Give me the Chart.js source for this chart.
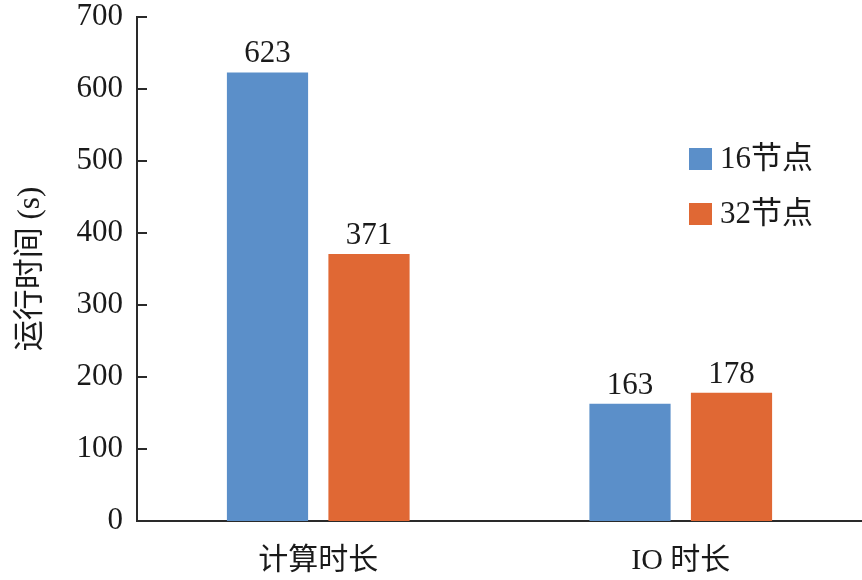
<!DOCTYPE html>
<html>
<head>
<meta charset="utf-8">
<script src="https://cdn.jsdelivr.net/npm/chart.js@4"></script>
<style>
  body { margin: 0; background: #fff; }
  #wrap { width: 862px; height: 580px; }
</style>
</head>
<body>
<div id="wrap"><canvas id="runChart" width="862" height="580"></canvas></div>
<script>
// ====== Data ======
const categories = ["计算时长", "IO 时长"];
const nodes16 = [623, 163];
const nodes32 = [371, 178];
const seriesNames = ["16节点", "32节点"];
const yTicks = [0, 100, 200, 300, 400, 500, 600, 700];

const FONT = "'Liberation Serif', 'Noto Sans CJK SC', serif";
const BLUE = "#5b8fc9";
const ORANGE = "#e06834";
const AXIS = "#2a2a2a";
const TEXT = "#1a1a1a";

// ticks pointing into the plot, value labels, legend
const extras = {
  id: "extras",
  afterDraw(chart) {
    const c = chart.ctx;
    const y = chart.scales.y;
    const area = chart.chartArea;
    c.save();
    c.strokeStyle = AXIS;
    c.lineWidth = 2;
    yTicks.forEach(v => {
      const py = Math.round(y.getPixelForValue(v));
      c.beginPath();
      c.moveTo(area.left, py);
      c.lineTo(area.left + 10, py);
      c.stroke();
    });

    c.fillStyle = TEXT;
    c.font = "31px " + FONT;
    c.textAlign = "center";
    c.textBaseline = "alphabetic";
    chart.data.datasets.forEach((ds, i) => {
      chart.getDatasetMeta(i).data.forEach((bar, j) => {
        c.fillText(String(ds.data[j]), bar.x, bar.y - 10);
      });
    });

    c.textAlign = "left";
    c.textBaseline = "middle";
    chart.data.datasets.forEach((ds, i) => {
      const cy = 159 + i * 55;
      c.fillStyle = ds.backgroundColor;
      c.fillRect(689, cy - 11, 23, 22);
      c.fillStyle = TEXT;
      c.fillText(ds.label, 720, cy + 1);
    });
    c.restore();
  }
};

new Chart(document.getElementById("runChart"), {
  type: "bar",
  data: {
    labels: categories,
    datasets: [
      { label: seriesNames[0], data: nodes16, backgroundColor: BLUE },
      { label: seriesNames[1], data: nodes32, backgroundColor: ORANGE }
    ]
  },
  options: {
    responsive: false,
    animation: false,
    layout: { padding: { top: 17, right: 0, left: 0, bottom: 0 } },
    plugins: {
      legend: { display: false },
      tooltip: { enabled: false }
    },
    datasets: {
      bar: { categoryPercentage: 0.56, barPercentage: 0.8 }
    },
    scales: {
      x: {
        grid: { display: false, drawTicks: false },
        border: { color: AXIS, width: 2 },
        ticks: {
          color: TEXT,
          font: { family: FONT, size: 30 },
          padding: 22
        },
        afterFit: s => { s.height = 59; s.paddingLeft = 0; s.paddingRight = 0; }
      },
      y: {
        min: 0,
        max: 700,
        afterBuildTicks: s => { s.ticks = yTicks.map(v => ({ value: v })); },
        grid: { display: false, drawTicks: false },
        border: { color: AXIS, width: 2 },
        ticks: {
          color: TEXT,
          font: { family: FONT, size: 31 },
          padding: 14
        },
        title: {
          display: true,
          text: "运行时间 (s)",
          color: TEXT,
          font: { family: FONT, size: 31 },
          padding: { top: 12, bottom: 0 }
        },
        afterFit: s => { s.width = 137; s.paddingTop = 0; s.paddingBottom = 0; }
      }
    }
  },
  plugins: [extras]
});
</script>
</body>
</html>
